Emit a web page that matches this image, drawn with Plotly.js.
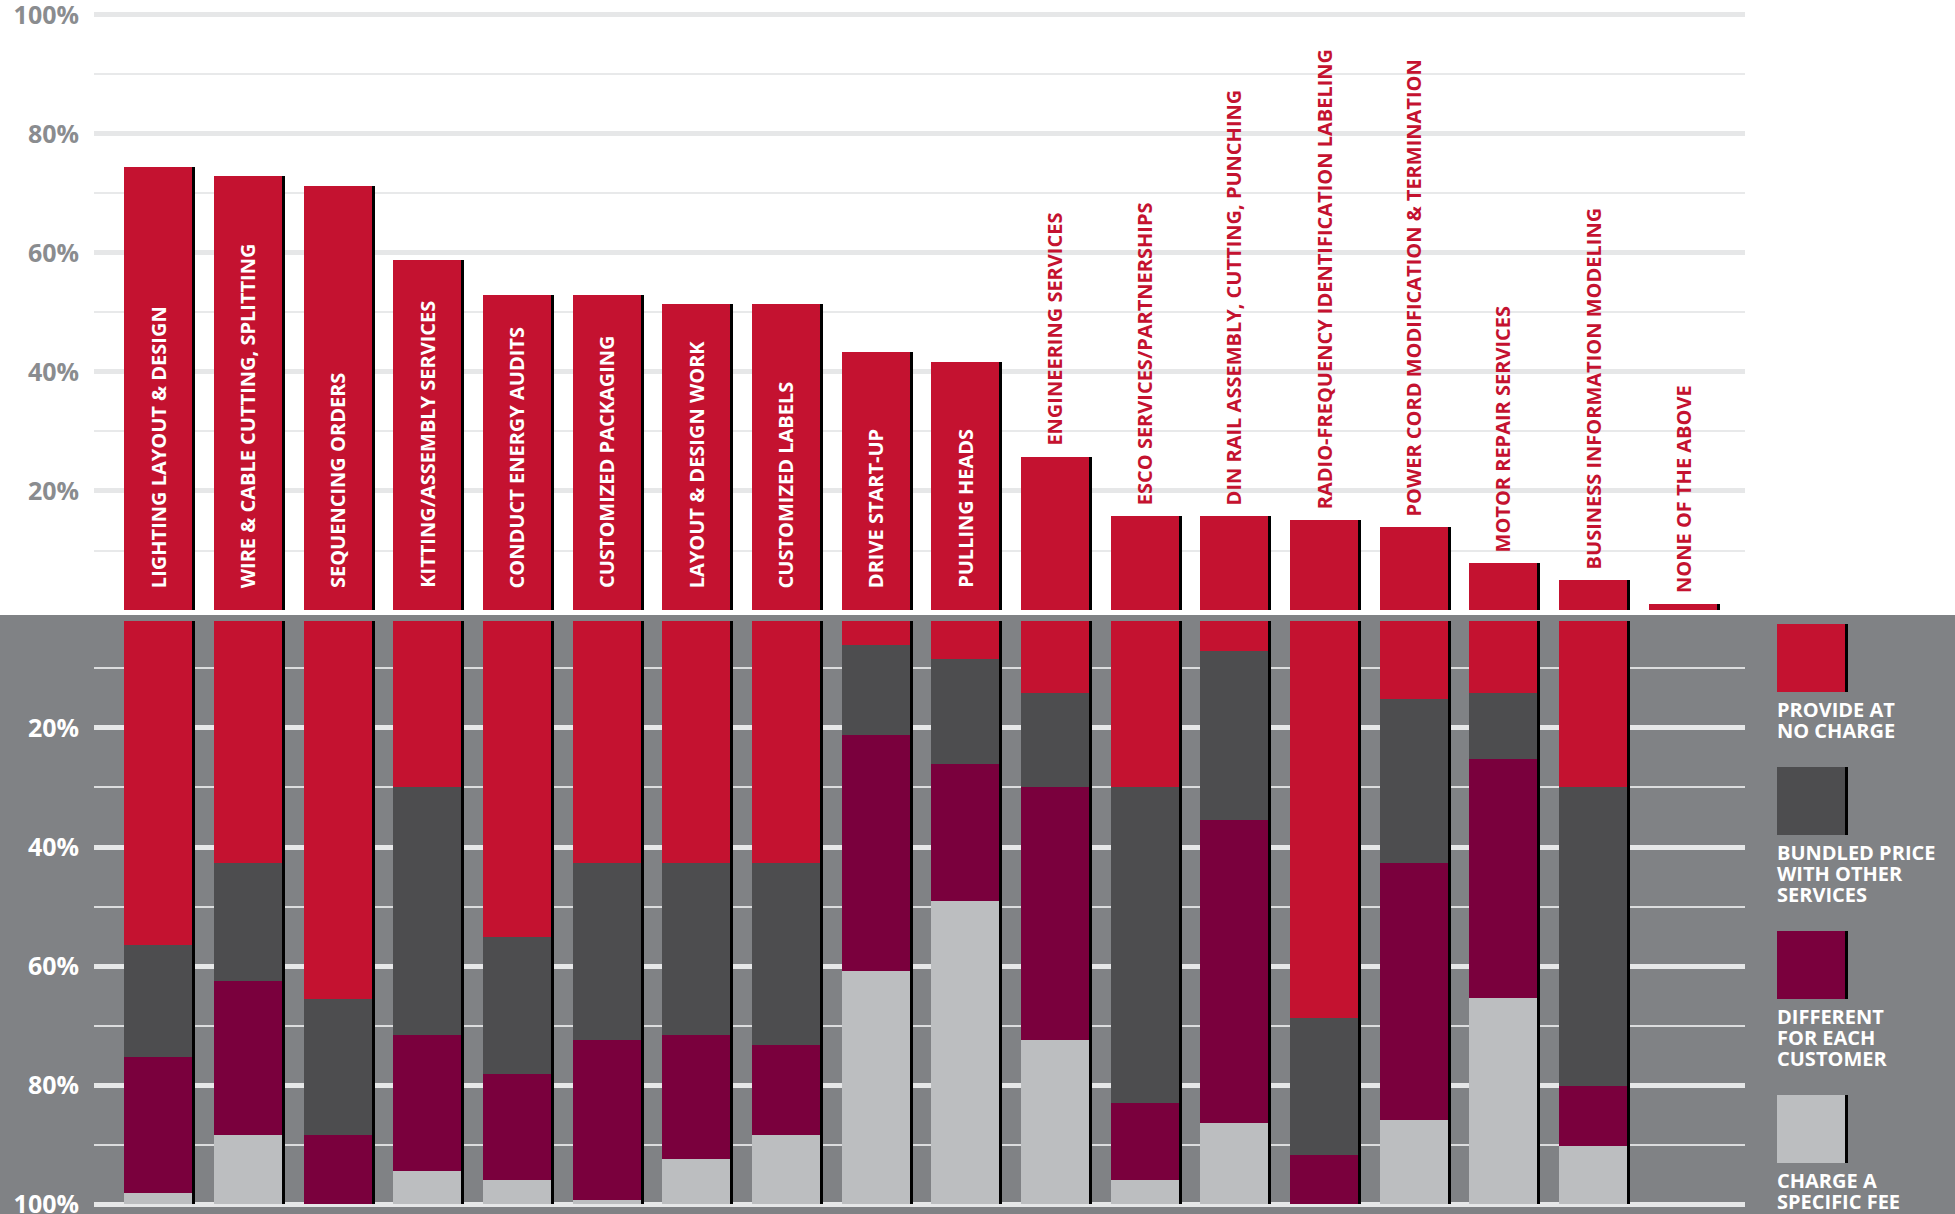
<!DOCTYPE html>
<html>
<head>
<meta charset="utf-8">
<script src="https://cdn.plot.ly/plotly-3.0.1.min.js"></script>
<style>
  html, body { margin: 0; padding: 0; background: #ffffff; }
  #chart { width: 1955px; height: 1214px; }
</style>
</head>
<body>
<div id="chart"></div>
<script>
// ---------------- DATA ----------------
const categories = [
  "LIGHTING LAYOUT & DESIGN",
  "WIRE & CABLE CUTTING, SPLITTING",
  "SEQUENCING ORDERS",
  "KITTING/ASSEMBLY SERVICES",
  "CONDUCT ENERGY AUDITS",
  "CUSTOMIZED PACKAGING",
  "LAYOUT & DESIGN WORK",
  "CUSTOMIZED LABELS",
  "DRIVE START-UP",
  "PULLING HEADS",
  "ENGINEERING SERVICES",
  "ESCO SERVICES/PARTNERSHIPS",
  "DIN RAIL ASSEMBLY, CUTTING, PUNCHING",
  "RADIO-FREQUENCY IDENTIFICATION LABELING",
  "POWER CORD MODIFICATION & TERMINATION",
  "MOTOR REPAIR SERVICES",
  "BUSINESS INFORMATION MODELING",
  "NONE OF THE ABOVE"
];
// share of respondents offering each service (top panel)
const offered = [74.5, 72.9, 71.3, 58.8, 52.9, 52.9, 51.4, 51.4, 43.4, 41.6, 25.7, 15.8, 15.8, 15.1, 13.9, 7.9, 5.0, 1.0];
// how the service is priced (bottom panel), percent of those offering
const noCharge    = [56.5, 42.7, 65.6, 29.9, 55.2, 42.7, 42.7, 42.7,  6.0,  8.4, 14.1, 29.9,  7.0, 68.8, 15.1, 14.1, 30.0, null];
const bundled     = [18.8, 19.8, 22.8, 41.7, 23.0, 29.8, 28.9, 30.6, 15.1, 17.7, 15.9, 53.2, 28.4, 22.9, 27.6, 11.1, 50.2, null];
const different   = [22.9, 25.9, 11.6, 22.8, 17.8, 26.8, 20.9, 15.1, 39.7, 23.0, 42.5, 12.9, 50.9,  8.3, 43.2, 40.2, 10.1, null];
const specificFee = [ 1.8, 11.6,  0.0,  5.6,  4.0,  0.7,  7.5, 11.6, 39.2, 50.9, 27.5,  4.0, 13.7,  0.0, 14.1, 34.6,  9.7, null];
const seriesNames = ["PROVIDE AT<br>NO CHARGE", "BUNDLED PRICE<br>WITH OTHER<br>SERVICES", "DIFFERENT<br>FOR EACH<br>CUSTOMER", "CHARGE A<br>SPECIFIC FEE"];
const yTickVals = [20, 40, 60, 80, 100];
const yTickText = ["20%", "40%", "60%", "80%", "100%"];
const yMinorVals = [10, 30, 50, 70, 90];

// ---------------- STYLE ----------------
const W = 1955, H = 1214;
const RED = "#c41230", DARK = "#4d4d4f", PURPLE = "#7a003d", LIGHT = "#bcbec0";
const PANEL = "#808285", GRID = "#e6e7e8";
const seriesColors = [RED, DARK, PURPLE, LIGHT];
const FONT = "Open Sans, Noto Sans, sans-serif";
const px = x => x / W;
const py = y => 1 - y / H;

const BW = 0.758;          // bar width in category units
const SH = 3 / 89.69;      // shadow shift (category units)

// ---------------- TRACES ----------------
const traces = [];
traces.push({
  type: "bar", x: categories, y: offered, xaxis: "x", yaxis: "y",
  width: BW, offset: -BW / 2 + SH, marker: { color: "#000000", line: { width: 0 } },
  hoverinfo: "skip", showlegend: false
});
traces.push({
  type: "bar", x: categories, y: offered, xaxis: "x", yaxis: "y",
  width: BW, offset: -BW / 2, marker: { color: RED, line: { width: 0 } },
  name: "Offered", showlegend: false
});

const segs = [noCharge, bundled, different, specificFee];
const totals = categories.map((c, i) => segs[0][i] == null ? null : segs.reduce((s, a) => s + a[i], 0));
traces.push({
  type: "bar", x: categories, y: totals, base: 0, xaxis: "x", yaxis: "y2",
  width: BW, offset: -BW / 2 + SH, marker: { color: "#000000", line: { width: 0 } },
  hoverinfo: "skip", showlegend: false
});
segs.forEach((arr, k) => {
  const bases = categories.map((c, i) => {
    if (arr[i] == null) return null;
    let b = 0;
    for (let j = 0; j < k; j++) b += segs[j][i];
    return b;
  });
  traces.push({
    type: "bar", x: categories, y: arr, base: bases, xaxis: "x", yaxis: "y2",
    width: BW, offset: -BW / 2, marker: { color: seriesColors[k], line: { width: 0 } },
    name: seriesNames[k].replace(/<br>/g, " "), showlegend: false
  });
});

// ---------------- ANNOTATIONS ----------------
const annotations = [];
categories.forEach((c, i) => {
  const inside = offered[i] >= 40;
  annotations.push({
    x: c, y: inside ? 0 : offered[i], xref: "x", yref: "y",
    text: c, textangle: -90, showarrow: false,
    xanchor: "center", yanchor: "bottom", yshift: inside ? 20 : 9,
    font: { family: FONT, size: 20, weight: 700, color: inside ? "#ffffff" : RED }
  });
});

const shapes = [];
shapes.push({
  type: "rect", xref: "paper", yref: "paper", layer: "below",
  x0: 0, x1: 1, y0: 0, y1: py(615), fillcolor: PANEL, line: { width: 0 }
});
let legTop = 624;
const SQ = 68, LINE = 21;
seriesNames.forEach((nm, k) => {
  shapes.push({ type: "rect", xref: "paper", yref: "paper", layer: "above",
    x0: px(1780), x1: px(1848), y0: py(legTop + SQ), y1: py(legTop), fillcolor: "#000000", line: { width: 0 } });
  shapes.push({ type: "rect", xref: "paper", yref: "paper", layer: "above",
    x0: px(1777), x1: px(1845), y0: py(legTop + SQ), y1: py(legTop), fillcolor: seriesColors[k], line: { width: 0 } });
  const nLines = nm.split("<br>").length;
  // one text block per entry: base size sets the line pitch (~21px), glyphs drawn at 20px
  annotations.push({
    x: px(1775), y: py(legTop + SQ + 2), xref: "paper", yref: "paper",
    text: nm.split("<br>").map(s => '<span style="font-size:20px">' + s + '</span>').join("<br>"),
    showarrow: false, xanchor: "left", yanchor: "top", align: "left",
    font: { family: FONT, size: 16.2, weight: 700, color: "#ffffff" }
  });
  legTop = legTop + SQ + 17 + (nLines - 1) * LINE + 37;
});

// ---------------- LAYOUT ----------------
const layout = {
  width: W, height: H, autosize: false,
  margin: { l: 0, r: 0, t: 0, b: 0, pad: 0 },
  paper_bgcolor: "#ffffff", plot_bgcolor: "rgba(0,0,0,0)",
  barmode: "overlay", bargap: 0, showlegend: false,
  font: { family: FONT },
  xaxis: {
    type: "category", domain: [px(94), px(1745)], range: [-0.715, 17.693],
    anchor: "y", showticklabels: false, showgrid: false, zeroline: false, showline: false, ticks: "",
    fixedrange: true
  },
  yaxis: {
    domain: [py(610), py(9)], range: [0, 101], anchor: "x",
    tickmode: "array", tickvals: yTickVals, ticktext: yTickText,
    tickfont: { family: FONT, size: 25, weight: 700, color: "#8a8c8f" },
    ticks: "", ticklabelstandoff: 14, ticklabeloverflow: "allow",
    showgrid: true, gridcolor: GRID, gridwidth: 5,
    minor: { tickmode: "array", tickvals: yMinorVals, showgrid: true, gridcolor: "#e8e9ea", gridwidth: 2, ticks: "" },
    zeroline: false, showline: false, fixedrange: true, automargin: false
  },
  yaxis2: {
    domain: [py(1207), py(621)], range: [100.5, 2.02], anchor: "x",
    tickmode: "array", tickvals: yTickVals, ticktext: yTickText,
    tickfont: { family: FONT, size: 25, weight: 700, color: "#ffffff" },
    ticks: "", ticklabelstandoff: 14, ticklabeloverflow: "allow",
    showgrid: true, gridcolor: GRID, gridwidth: 5,
    minor: { tickmode: "array", tickvals: yMinorVals, showgrid: true, gridcolor: "#dcddde", gridwidth: 2, ticks: "" },
    zeroline: false, showline: false, fixedrange: true, automargin: false
  },
  shapes: shapes,
  annotations: annotations
};

Plotly.newPlot("chart", traces, layout, { staticPlot: true, displayModeBar: false });
</script>
</body>
</html>
